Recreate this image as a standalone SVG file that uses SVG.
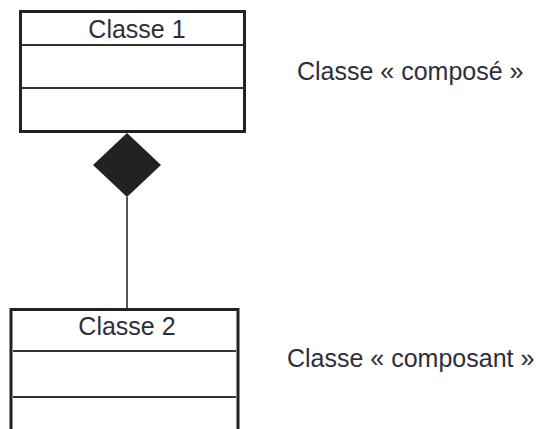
<svg xmlns="http://www.w3.org/2000/svg" width="545" height="429" viewBox="0 0 545 429">
  <style>
    .box { fill: #ffffff; stroke: #222222; stroke-width: 3; }
    .sep { stroke: #333333; stroke-width: 2; }
    .lbl { font-family: "Liberation Sans", Arial, sans-serif; font-size: 25px; fill: #2e2e3a; }
    .link { stroke: #555555; stroke-width: 2; fill: none; }
  </style>
  <rect width="545" height="429" fill="#ffffff"/>

  <g id="connectors">
    <line class="link" x1="127" y1="197" x2="127" y2="309"/>
    <polygon points="127,133 161,165 127,197 93,165" fill="#222222"/>
  </g>

  <g id="classe1">
    <rect class="box" x="20.5" y="11.5" width="224" height="120"/>
    <line class="sep" x1="22" y1="45" x2="243" y2="45"/>
    <line class="sep" x1="22" y1="88" x2="243" y2="88"/>
    <text class="lbl" x="137" y="38" text-anchor="middle">Classe 1</text>
  </g>

  <g id="classe2">
    <rect class="box" x="11" y="309.5" width="227" height="140"/>
    <line class="sep" x1="13" y1="351" x2="236" y2="351"/>
    <line class="sep" x1="13" y1="397" x2="236" y2="397"/>
    <text class="lbl" x="127" y="335" text-anchor="middle">Classe 2</text>
  </g>

  <g id="notes">
    <text class="lbl" x="297" y="80">Classe « composé »</text>
    <text class="lbl" x="287" y="367">Classe « composant »</text>
  </g>
</svg>
